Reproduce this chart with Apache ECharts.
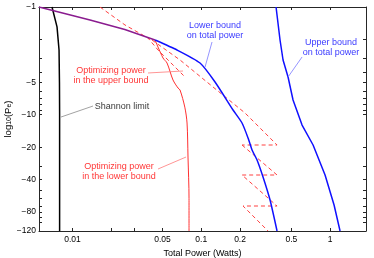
<!DOCTYPE html>
<html><head><meta charset="utf-8">
<script src="https://cdn.jsdelivr.net/npm/echarts@6/dist/echarts.min.js"></script>
<style>html,body{margin:0;padding:0;background:#fff}#c{width:374px;height:258px}</style>
</head><body><div id="c"></div>
<script>
// ---- data (x: total power in Watts, y: log10(Pe)) ----
const xTickLabels = [0.01, 0.05, 0.1, 0.2, 0.5, 1];
const yTickLabels = [-1, -5, -10, -20, -40, -80, -120];
const xTicks = [0.01, 0.02, 0.03, 0.05, 0.1, 0.2, 0.5, 1];
const yTicks = [-1, -2, -3, -4, -5, -6, -7, -8, -9, -10, -20, -30, -40, -50, -60, -70, -80, -90, -100, -120];
const xRange = [0.0055, 1.9];
const yRange = [-1, -120];

const shannonX = [0.00694, 0.00759, 0.00787, 0.00793, 0.00795, 0.00795];
const shannonY = [-1, -1.53, -2.51, -5.08, -10.06, -120];

const overlapX = [0.0055, 0.01369, 0.0255, 0.04375];
const overlapY = [-1, -1.32, -1.62, -2.025];

const lowerBoundX = [0.04375, 0.06484, 0.0978, 0.1279, 0.1764, 0.2072, 0.2308, 0.2479, 0.271, 0.3016, 0.3419, 0.3875];
const lowerBoundY = [-2.025, -2.507, -3.31, -4.97, -9.04, -11.93, -16.44, -21.26, -26.3, -37.84, -61.9, -120];

const upperBoundX = [0.3806, 0.4087, 0.4314, 0.4717, 0.5157, 0.606, 0.7378, 0.914, 1.0737, 1.195];
const upperBoundY = [-1, -2.025, -3.104, -4.464, -7.30, -12.46, -19.1, -36.26, -68.85, -120];

const optLowerX = [0.04375, 0.05048, 0.05422, 0.06035, 0.066, 0.06842, 0.0745, 0.07754, 0.0789, 0.08034, 0.08034];
const optLowerY = [-2.025, -2.975, -3.31, -4.76, -5.648, -5.894, -8.5, -11.93, -24.69, -60, -120];

const optUpperAX = [0.01636, 0.02559, 0.03861, 0.04616, 0.066, 0.07347];
const optUpperAY = [-1, -1.469, -1.94, -2.507, -3.845, -4.37];

const optUpperBX = [0.04146, 0.06842, 0.1234, 0.2187, 0.3875, 0.2072];
const optUpperBY = [-2.025, -3.104, -5.529, -9.64, -19.1, -19.1];

const zigzagX = [0.2072, 0.3875, 0.2072, 0.3875, 0.211, 0.3299];
const zigzagY = [-19.1, -36.26, -36.26, -70.34, -70.34, -120];

const labelTexts = ['Lower bound\non total power', 'Upper bound\non total power', 'Optimizing power\nin the upper bound', 'Shannon limit', 'Optimizing power\nin the lower bound'];
const labelX = [0.128, 1.017, 0.01992, 0.02425, 0.02299];
const labelY = [-1.67, -2.402, -4.323, -8.39, -33.65];
const labelColors = ['#0000ff', '#0000ff', '#ff0000', '#000000', '#ff0000'];

const arrowFromX = [0.1212, 0.606, 0.03861, 0.01444, 0.04616];
const arrowFromY = [-2.113, -2.911, -4.098, -8.30, -31.9];
const arrowToX = [0.107, 0.4717, 0.07218, 0.00815, 0.07617];
const arrowToY = [-3.606, -4.464, -3.927, -10.5, -24.69];
const arrowColors = ['#7a7aff', '#7a7aff', '#ff7a7a', '#8a8a8a', '#ff7a7a'];

// ---- transforms: log10 on x, log10(|log10 Pe|) on y ----
const tx = v => Math.log10(v);
const ty = v => Math.log10(-v);
const pts = (xs, ys) => xs.map((x, i) => [tx(x), ty(ys[i])]);
const fmtX = v => String(parseFloat(Math.pow(10, v).toPrecision(3)));
const fmtY = v => '\u2212' + Math.round(Math.pow(10, v));

const font = 'Liberation Sans, Arial, Helvetica, sans-serif';
const axisCommon = {
  type: 'value', splitLine: { show: false },
  axisLine: { show: true, onZero: false, lineStyle: { color: '#262626', width: 1 } },
};

const chart = echarts.init(document.getElementById('c'), null, { renderer: 'canvas' });
chart.setOption({
  animation: false,
  backgroundColor: '#fff',
  grid: { left: 39, right: 8, top: 7, bottom: 27, containLabel: false, outerBoundsMode: 'none' },
  xAxis: [
    Object.assign({}, axisCommon, {
      position: 'bottom', min: tx(xRange[0]), max: tx(xRange[1]),
      name: 'Total Power (Watts)', nameLocation: 'middle', nameGap: 18, nameMoveOverlap: false,
      nameTextStyle: { fontFamily: font, fontSize: 9, color: '#000' },
      axisTick: { inside: true, length: 3, customValues: xTicks.map(tx), lineStyle: { color: '#262626' } },
      axisLabel: { customValues: xTickLabels.map(tx), formatter: fmtX, margin: 4, fontFamily: font, fontSize: 8.5, color: '#000' }
    }),
    Object.assign({}, axisCommon, {
      position: 'top', min: tx(xRange[0]), max: tx(xRange[1]),
      axisTick: { inside: true, length: 3, customValues: xTicks.map(tx), lineStyle: { color: '#262626' } },
      axisLabel: { show: false }
    })
  ],
  yAxis: [
    Object.assign({}, axisCommon, {
      position: 'left', inverse: true, min: ty(yRange[0]), max: ty(yRange[1]),
      name: '{m|log}{s|10}{m|(P}{s|e}{m|)}', nameLocation: 'middle', nameGap: 26, nameRotate: 90, nameMoveOverlap: false,
      nameTextStyle: {
        fontFamily: font, fontSize: 9.5, color: '#000',
        rich: {
          m: { fontFamily: font, fontSize: 9.5, color: '#000', lineHeight: 12, verticalAlign: 'bottom' },
          s: { fontFamily: font, fontSize: 7, color: '#000', lineHeight: 9, verticalAlign: 'bottom' }
        }
      },
      axisTick: { inside: true, length: 3, customValues: yTicks.map(ty), lineStyle: { color: '#262626' } },
      axisLabel: { customValues: yTickLabels.map(ty), formatter: fmtY, margin: 3, fontFamily: font, fontSize: 8.5, color: '#000' }
    }),
    Object.assign({}, axisCommon, {
      position: 'right', inverse: true, min: ty(yRange[0]), max: ty(yRange[1]),
      axisTick: { inside: true, length: 3, customValues: yTicks.map(ty), lineStyle: { color: '#262626' } },
      axisLabel: { show: false }
    })
  ],
  series: [
    {
      type: 'line', name: 'Shannon limit', data: pts(shannonX, shannonY), showSymbol: false,
      lineStyle: { color: '#000', width: 1.5 }, z: 3,
      markLine: {
        silent: true, animation: false, symbol: ['none', 'arrow'], symbolSize: [0, 5],
        label: { show: false },
        data: arrowFromX.map((x, i) => [
          { coord: [tx(x), ty(arrowFromY[i])], lineStyle: { color: arrowColors[i], width: 0.8, type: 'solid' }, itemStyle: { color: arrowColors[i] } },
          { coord: [tx(arrowToX[i]), ty(arrowToY[i])] }
        ])
      }
    },
    { type: 'line', name: 'Optimizing power in the lower bound', data: pts(optLowerX, optLowerY), showSymbol: false, smooth: 0.3,
      lineStyle: { color: '#ff3030', width: 1 }, z: 2 },
    { type: 'line', name: 'Optimizing power in the upper bound A', data: pts(optUpperAX, optUpperAY), showSymbol: false,
      lineStyle: { color: '#ff4040', width: 1, type: [4, 3] }, z: 2 },
    { type: 'line', name: 'Optimizing power in the upper bound B', data: pts(optUpperBX, optUpperBY), showSymbol: false,
      lineStyle: { color: '#ff4040', width: 1, type: [4, 3] }, z: 2 },
    { type: 'line', name: 'Optimizing power in the upper bound zigzag', data: pts(zigzagX, zigzagY), showSymbol: false,
      itemStyle: { color: '#ff4040' }, lineStyle: { color: '#ff4040', width: 1, type: [4, 3] }, z: 2 },
    { type: 'line', name: 'Lower bound', data: pts(lowerBoundX, lowerBoundY), showSymbol: false, smooth: 0.2,
      lineStyle: { color: '#1010ff', width: 1.5 }, z: 4 },
    { type: 'line', name: 'Upper bound', data: pts(upperBoundX, upperBoundY), showSymbol: false,
      lineStyle: { color: '#1010ff', width: 1.5 }, z: 4 },
    { type: 'line', name: 'Overlap', data: pts(overlapX, overlapY), showSymbol: false,
      lineStyle: { color: '#8a1c8f', width: 1.5 }, z: 5 },
    {
      type: 'scatter', name: 'annotations', symbolSize: 0, z: 6, silent: true,
      data: labelTexts.map((t, i) => ({
        value: [tx(labelX[i]), ty(labelY[i])],
        label: { show: true, position: 'inside', formatter: t, color: labelColors[i], fontFamily: font, fontSize: 9, lineHeight: 10, align: 'center', verticalAlign: 'middle' }
      }))
    }
  ]
});
</script></body></html>
